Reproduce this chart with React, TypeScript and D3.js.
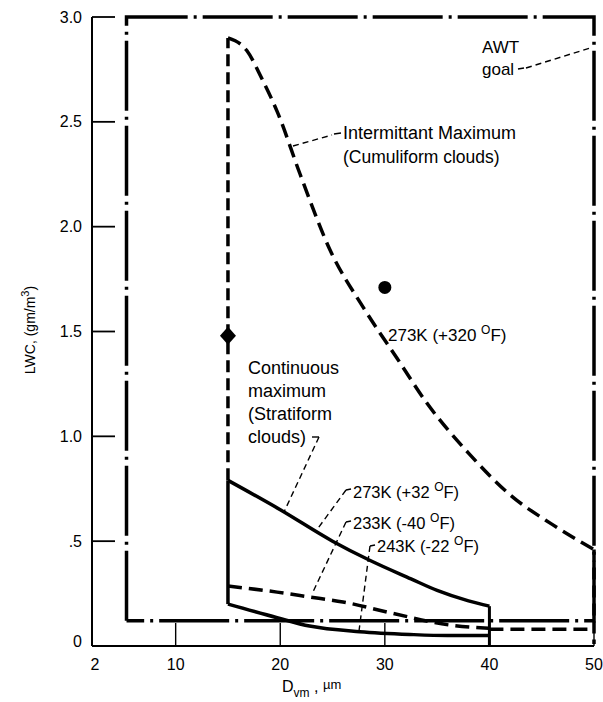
import * as d3 from "d3";

// intermittent maximum envelope (cumuliform clouds), dashed
const intermittentD = [15, 16.8, 18.3, 19.7, 21.9, 24.75, 28, 31.2, 34, 38, 42, 46, 50];
const intermittentLwc = [2.9, 2.84, 2.7, 2.55, 2.25, 1.89, 1.61, 1.37, 1.16, 0.92, 0.72, 0.58, 0.46];

// continuous maximum (stratiform clouds), 273K upper solid
const upperD = [15, 20, 25, 28.5, 32.5, 35, 38, 40];
const upperLwc = [0.79, 0.65, 0.5, 0.41, 0.32, 0.265, 0.215, 0.19];

// 233K dashed
const midD = [15, 19.7, 22.8, 26, 30.8, 36.2, 40];
const midLwc = [0.286, 0.257, 0.234, 0.21, 0.155, 0.1, 0.085];

// 243K lower solid
const lowerD = [15, 19.7, 22.8, 27.6, 32.4, 36, 40];
const lowerLwc = [0.2, 0.135, 0.095, 0.068, 0.055, 0.05, 0.05];

// AWT goal box
const awtD = [5.3, 50];
const awtLwc = [0.12, 3.0];

// single test points
const diamondPt = { d: 15, lwc: 1.48 };
const circlePt = { d: 30, lwc: 1.71 };

const xTicks = [2, 10, 20, 30, 40, 50];
const yTicks = [0, 0.5, 1.0, 1.5, 2.0, 2.5, 3.0];
const yTickLabels = ["0", ".5", "1.0", "1.5", "2.0", "2.5", "3.0"];

const W = 603;
const H = 702;
const font = "'Liberation Sans', Arial, sans-serif";

const x = d3.scaleLinear().domain([2, 50]).range([92, 594]);
const y = d3.scaleLinear().domain([0, 3]).range([646, 17]);

const line = d3
  .line<[number, number]>()
  .x((p) => x(p[0]))
  .y((p) => y(p[1]))
  .curve(d3.curveMonotoneX);

const zip = (a: number[], b: number[]) => a.map((v, i) => [v, b[i]] as [number, number]);
const straight = (pts: [number, number][]) =>
  d3
    .line<[number, number]>()
    .x((p) => x(p[0]))
    .y((p) => y(p[1]))(pts) as string;

const DASHDOT = "70 6 3 6";
const DASH = "14 7";
const LEADER = "6 4";

export default function App() {
  const x0 = x(2);
  const y0 = y(0);
  return (
    <svg
      width={W}
      height={H}
      style={{ position: "absolute", left: 0, top: 0, background: "#fff" }}
      fontFamily={font}
    >
      {/* axes */}
      <line x1={x0} y1={y(3)} x2={x0} y2={y0} stroke="#000" strokeWidth={2} />
      <line x1={x0} y1={y0} x2={x(50)} y2={y0} stroke="#000" strokeWidth={2} />
      {yTicks.map((t, i) => (
        <g key={"y" + t}>
          <line x1={x0} x2={x0 + 23} y1={y(t)} y2={y(t)} stroke="#000" strokeWidth={1.8} />
          <text x={x0 - 10} y={y(t) - (t === 0 ? 5 : 0)} dy="0.35em" textAnchor="end" fontSize={16}>
            {yTickLabels[i]}
          </text>
        </g>
      ))}
      {xTicks.map((t) => (
        <g key={"x" + t}>
          <line x1={x(t)} x2={x(t)} y1={y0} y2={y0 - 23} stroke="#000" strokeWidth={1.4} />
          <text x={x(t) + (t === 2 ? 3 : 0)} y={y0 + 24} textAnchor="middle" fontSize={16}>
            {t}
          </text>
        </g>
      ))}

      {/* axis titles */}
      <text x={282} y={692} fontSize={16}>
        D<tspan fontSize={12} dy={5}>vm</tspan>
        <tspan dy={-5}> , </tspan>
        <tspan fontSize={13} dy={-3}>µm</tspan>
      </text>
      <text transform="translate(35,330) rotate(-90)" textAnchor="middle" fontSize={14}>
        LWC, (gm/m<tspan fontSize={11} dy={-6}>3</tspan>
        <tspan dy={6}>)</tspan>
      </text>

      {/* AWT goal box, dash-dot */}
      <path
        d={straight([
          [awtD[0], awtLwc[0]],
          [awtD[0], awtLwc[1]],
          [awtD[1], awtLwc[1]],
          [awtD[1], awtLwc[0]],
          [awtD[0], awtLwc[0]],
        ])}
        fill="none"
        stroke="#000"
        strokeWidth={3.5}
        strokeDasharray={DASHDOT}
      />

      {/* intermittent maximum envelope */}
      <path
        d={straight([
          [15, 0.79],
          [15, intermittentLwc[0]],
        ])}
        fill="none"
        stroke="#000"
        strokeWidth={3.5}
        strokeDasharray="12 6"
      />
      <path d={line(zip(intermittentD, intermittentLwc)) as string} fill="none" stroke="#000" strokeWidth={3.5} strokeDasharray={DASH} />
      <path
        d={straight([
          [50, intermittentLwc[intermittentLwc.length - 1]],
          [50, 0.01],
        ])}
        fill="none"
        stroke="#000"
        strokeWidth={3.5}
        strokeDasharray="12 6"
      />
      <path
        d={straight([
          [40, 0.08],
          [50, 0.08],
        ])}
        fill="none"
        stroke="#000"
        strokeWidth={3.5}
        strokeDasharray={DASH}
      />

      {/* continuous maximum */}
      <path
        d={straight([
          [15, upperLwc[0]],
          [15, lowerLwc[0]],
        ])}
        fill="none"
        stroke="#000"
        strokeWidth={3.5}
      />
      <path d={line(zip(upperD, upperLwc)) as string} fill="none" stroke="#000" strokeWidth={3.5} />
      <path d={line(zip(lowerD, lowerLwc)) as string} fill="none" stroke="#000" strokeWidth={3.5} />
      <path
        d={straight([
          [40, upperLwc[upperLwc.length - 1]],
          [40, 0],
        ])}
        fill="none"
        stroke="#000"
        strokeWidth={3}
      />
      <path d={line(zip(midD, midLwc)) as string} fill="none" stroke="#000" strokeWidth={3.5} strokeDasharray={DASH} />

      {/* markers */}
      <path
        d={`M${x(diamondPt.d)},${y(diamondPt.lwc) - 9}l8,9l-8,9l-8,-9z`}
        fill="#000"
      />
      <circle cx={x(circlePt.d)} cy={y(circlePt.lwc)} r={6.5} fill="#000" />

      {/* annotations */}
      <g fontSize={17}>
        <text x={482} y={53}>AWT</text>
        <text x={482} y={75}>goal</text>
        <line x1={518} y1={69} x2={524} y2={68} stroke="#000" strokeWidth={1.4} />
        <line x1={526} y1={68} x2={590} y2={48} stroke="#000" strokeWidth={1.4} strokeDasharray={LEADER} />

        <text x={343} y={139} fontSize={18}>Intermittant Maximum</text>
        <text x={343} y={163} fontSize={17.5}>(Cumuliform clouds)</text>
        <line x1={334} y1={134} x2={341} y2={133} stroke="#000" strokeWidth={1.4} />
        <line x1={293} y1={146} x2={332} y2={135} stroke="#000" strokeWidth={1.4} strokeDasharray={LEADER} />

        <text x={388} y={341}>
          273K (+320 <tspan fontSize={12} dy={-7}>O</tspan>
          <tspan dy={7}>F)</tspan>
        </text>

        <g fontSize={18}>
          <text x={248} y={374}>Continuous</text>
          <text x={248} y={397}>maximum</text>
          <text x={248} y={420}>(Stratiform</text>
          <text x={248} y={443}>clouds)</text>
        </g>
        <line x1={312} y1={437} x2={319} y2={437} stroke="#000" strokeWidth={1.4} />
        <line x1={319} y1={437} x2={284} y2={512} stroke="#000" strokeWidth={1.4} strokeDasharray={LEADER} />

        <g fontSize={16.5}>
          <text x={353} y={498}>
            273K (+32 <tspan fontSize={12} dy={-7}>O</tspan>
            <tspan dy={7}>F)</tspan>
          </text>
          <text x={353} y={529}>
            233K (-40 <tspan fontSize={12} dy={-7}>O</tspan>
            <tspan dy={7}>F)</tspan>
          </text>
          <text x={377} y={552}>
            243K (-22 <tspan fontSize={12} dy={-7}>O</tspan>
            <tspan dy={7}>F)</tspan>
          </text>
        </g>
        <line x1={346} y1={490} x2={351} y2={489} stroke="#000" strokeWidth={1.4} />
        <line x1={346} y1={490} x2={316} y2={531} stroke="#000" strokeWidth={1.4} strokeDasharray={LEADER} />
        <line x1={346} y1={522} x2={351} y2={521} stroke="#000" strokeWidth={1.4} />
        <line x1={346} y1={522} x2={312} y2={594} stroke="#000" strokeWidth={1.4} strokeDasharray={LEADER} />
        <line x1={370} y1={546} x2={375} y2={545} stroke="#000" strokeWidth={1.4} />
        <line x1={370} y1={546} x2={359} y2={631} stroke="#000" strokeWidth={1.4} strokeDasharray={LEADER} />
      </g>
    </svg>
  );
}
